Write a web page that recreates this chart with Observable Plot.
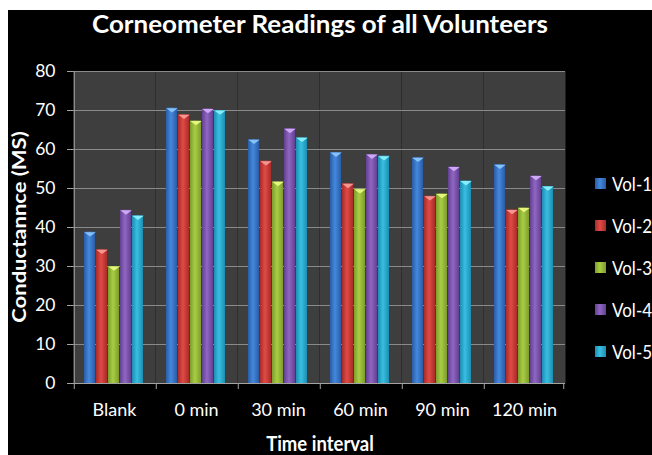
<!DOCTYPE html>
<html><head><meta charset="utf-8">
<script src="https://cdn.jsdelivr.net/npm/d3@7"></script>
<script src="https://cdn.jsdelivr.net/npm/@observablehq/plot@0.6"></script>
<style>
html,body{margin:0;padding:0;background:#fff;}
#wrap{position:relative;width:652px;height:455px;overflow:hidden;background:#000;font-family:Lato,"Open Sans",sans-serif;color:#fff;}
#wrap svg{position:absolute;left:0;top:0;}
.strip{position:absolute;background:#fff;}
.ov{position:absolute;white-space:nowrap;line-height:1;}
#title{left:0;width:640px;top:11px;text-align:center;font-weight:bold;font-size:26px;transform:scaleY(0.95);transform-origin:50% 0;}
#xtitle{left:0;width:640px;top:433px;text-align:center;font-weight:bold;font-size:18.5px;transform:scaleY(1.1);transform-origin:50% 0;}
#ytitle{left:19px;top:227px;font-weight:bold;font-size:22px;transform:translate(-50%,-50%) rotate(-90deg) scaleY(0.82);}
.lg-sq{position:absolute;width:11px;height:11px;}
.lg-tx{position:absolute;font-size:17px;line-height:17px;height:17px;white-space:nowrap;transform:scaleY(1.15);transform-origin:0 50%;}
</style>
</head><body>
<div id="wrap"></div>
<script>
const categories = ["Blank", "0 min", "30 min", "60 min", "90 min", "120 min"];
const volunteers = ["Vol-1", "Vol-2", "Vol-3", "Vol-4", "Vol-5"];
const vol1 = [38.8, 70.6, 62.5, 59.2, 57.9, 56.1];
const vol2 = [34.3, 68.9, 57.0, 51.2, 48.0, 44.5];
const vol3 = [30.0, 67.3, 51.7, 49.8, 48.6, 45.0];
const vol4 = [44.4, 70.4, 65.3, 58.7, 55.5, 53.2];
const vol5 = [43.0, 70.0, 63.0, 58.3, 51.9, 50.5];
const yTicks = [0, 10, 20, 30, 40, 50, 60, 70, 80];
const titleText = "Corneometer Readings of all Volunteers";
const xTitle = "Time interval";
const yTitle = "Conductannce (MS)";

const series = [vol1, vol2, vol3, vol4, vol5];
const darkColors  = ["#2a5ca6", "#a92b28", "#7c9d2c", "#62418f", "#1d8db0"];
const midColors   = ["#4489dd", "#e04b46", "#a9cd44", "#9066c4", "#38bfe2"];
const capColors   = ["#86c1f7", "#f59590", "#e6f57e", "#cfa8f5", "#86eefa"];

const rows = [];
categories.forEach((c, i) => volunteers.forEach((v, j) => rows.push({time: c, vol: v, value: series[j][i]})));

const W = 652, H = 455, ML = 72, MR = 86, MT = 71, MB = 72;
const xPadIn = 0.05, xPadOut = 0.76;
const facetW = (W - ML - MR) / categories.length;
const step = facetW / (volunteers.length - xPadIn + 2 * xPadOut);
const edgeOff = xPadOut * step + step * (1 - xPadIn) / 2;
const capR = step * (1 - xPadIn) / 2 - 0.3;
const axisGray = "#a3a3a3";

const capSymbol = {
  draw(ctx, size) {
    const r = Math.sqrt(size / Math.PI);
    ctx.moveTo(-r, 0);
    ctx.lineTo(r, 0);
    ctx.lineTo(0, r * 0.75);
    ctx.closePath();
  }
};

const marks = [
  Plot.frame({fill: "#3e3e3e"}),
  Plot.gridY(yTicks.filter(t => t > 0), {stroke: "#8a8a8a", strokeOpacity: 1}),
  Plot.barY(rows, {fx: "time", x: "vol", y: "value", fill: "vol"}),
  ...volunteers.map((v, j) => Plot.dot(rows.filter(r => r.vol === v), {
    fx: "time", x: "vol", y: "value", r: capR, symbol: capSymbol, fill: capColors[j], stroke: "none"
  })),
  Plot.ruleY([0], {stroke: axisGray}),
  Plot.ruleX(categories, {fx: d => d, x: () => volunteers[0], dx: -edgeOff, y1: 0, y2: 0, insetBottom: -6, stroke: axisGray}),
  Plot.ruleX([categories[categories.length - 1]], {fx: d => d, x: () => volunteers[volunteers.length - 1], dx: edgeOff, y1: 0, y2: 0, insetBottom: -6, stroke: axisGray}),
  Plot.ruleX([categories[0]], {fx: d => d, x: () => volunteers[0], dx: -edgeOff, y1: 0, y2: d3.max(yTicks), stroke: axisGray}),
  Plot.axisY(yTicks, {tickSize: 6, tickPadding: 12, stroke: axisGray, fill: "white", fontSize: 17.5, label: null}),
  Plot.axisFx({anchor: "bottom", tickSize: 0, tickPadding: 20, fill: "white", fontSize: 18, label: null})
];

const svg = Plot.plot({
  width: W, height: H,
  marginLeft: ML, marginRight: MR, marginTop: MT, marginBottom: MB,
  style: {background: "#000", color: "#fff", fontFamily: "Lato, 'Open Sans', sans-serif"},
  fx: {domain: categories, padding: 0, label: null, axis: null},
  x: {domain: volunteers, paddingInner: xPadIn, paddingOuter: xPadOut, axis: null},
  y: {domain: [0, d3.max(yTicks)], label: null, axis: null},
  color: {domain: volunteers, range: volunteers.map((_, j) => `url(#grad${j})`)},
  marks
});

const defs = d3.select(svg).insert("defs", ":first-child");
volunteers.forEach((v, j) => {
  const g = defs.append("linearGradient").attr("id", `grad${j}`).attr("x1", "0").attr("x2", "1").attr("y1", "0").attr("y2", "0");
  g.append("stop").attr("offset", "0%").attr("stop-color", darkColors[j]);
  g.append("stop").attr("offset", "45%").attr("stop-color", midColors[j]);
  g.append("stop").attr("offset", "100%").attr("stop-color", darkColors[j]);
});

const wrap = document.getElementById("wrap");
wrap.appendChild(svg);

function addDiv(cls, id, text, styles) {
  const d = document.createElement("div");
  if (cls) d.className = cls;
  if (id) d.id = id;
  if (text != null) d.textContent = text;
  Object.assign(d.style, styles || {});
  wrap.appendChild(d);
  return d;
}
addDiv("strip", null, null, {left: "0px", top: "0px", width: "652px", height: "10px"});
addDiv("strip", null, null, {left: "0px", top: "0px", width: "8px", height: "455px"});
addDiv("ov", "title", titleText);
addDiv("ov", "xtitle", xTitle);
addDiv("ov", "ytitle", yTitle);

const legendTop = 183, legendGap = 42.2;
volunteers.forEach((v, j) => {
  const cy = legendTop + j * legendGap;
  addDiv("lg-sq", null, null, {left: "595px", top: (cy - 5.5) + "px",
    background: `linear-gradient(to right, ${darkColors[j]}, ${midColors[j]} 45%, ${darkColors[j]})`});
  addDiv("lg-tx", null, v, {left: "612px", top: (cy - 8.5) + "px"});
});
</script>
</body></html>
